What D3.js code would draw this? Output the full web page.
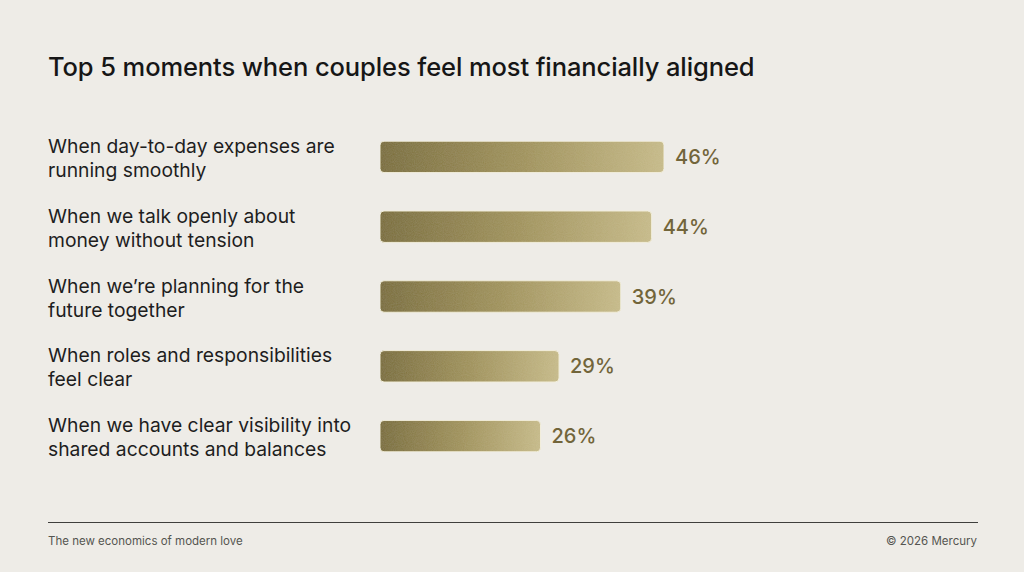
<!DOCTYPE html>
<html>
<head>
<meta charset="utf-8">
<script src="https://cdn.jsdelivr.net/npm/d3@7"></script>
<style>
  html, body { margin: 0; padding: 0; background: #eeece7; }
  svg { display: block; }
  text { font-family: Inter, "Noto Sans", sans-serif; }
</style>
</head>
<body>
<svg id="chart" width="1024" height="572"></svg>
<script>
const categories = [
  ["When day-to-day expenses are", "running smoothly"],
  ["When we talk openly about", "money without tension"],
  ["When we\u2019re planning for the", "future together"],
  ["When roles and responsibilities", "feel clear"],
  ["When we have clear visibility into", "shared accounts and balances"]
];
const values = [46, 44, 39, 29, 26];
const valueLabels = ["46%", "44%", "39%", "29%", "26%"];
const title = "Top 5 moments when couples feel most financially aligned";
const footerLeft = "The new economics of modern love";
const footerRight = "\u00a9 2026 Mercury";

const W = 1024, H = 572;
const svg = d3.select("#chart");
svg.append("rect").attr("width", W).attr("height", H).attr("fill", "#eeece7");

const defs = svg.append("defs");
const grad = defs.append("linearGradient").attr("id", "barGrad")
  .attr("x1", "0").attr("x2", "1").attr("y1", "0").attr("y2", "0");
grad.append("stop").attr("offset", "0%").attr("stop-color", "#776a36");
grad.append("stop").attr("offset", "50%").attr("stop-color", "#9e9058");
grad.append("stop").attr("offset", "100%").attr("stop-color", "#c5b988");

const filt = defs.append("filter").attr("id", "grain").attr("x", "0").attr("y", "0").attr("width", "1").attr("height", "1");
filt.append("feTurbulence").attr("type", "fractalNoise").attr("baseFrequency", "0.9").attr("numOctaves", "2").attr("seed", "3").attr("result", "noise");
filt.append("feColorMatrix").attr("in", "noise").attr("type", "matrix")
  .attr("values", "0 0 0 0 0.95  0 0 0 0 0.92  0 0 0 0 0.75  0 0 0 0.09 0").attr("result", "n2");
filt.append("feComposite").attr("in", "n2").attr("in2", "SourceGraphic").attr("operator", "in").attr("result", "n3");
filt.append("feMerge").call(m => { m.append("feMergeNode").attr("in", "SourceGraphic"); m.append("feMergeNode").attr("in", "n3"); });

// Title
svg.append("text").attr("x", 48).attr("y", 76)
  .attr("font-size", 25.5).attr("font-weight", 500).attr("fill", "#161616")
  .attr("letter-spacing", "-0.1")
  .text(title);

const x = d3.scaleLinear().domain([0, 46]).range([380, 664]);
const y = d3.scaleBand().domain(d3.range(values.length)).range([122, 471]).paddingInner(0.55).paddingOuter(0.275);

const rows = svg.append("g").selectAll("g").data(values).join("g");

rows.append("rect")
  .attr("x", x(0))
  .attr("y", (d, i) => y(i))
  .attr("width", d => x(d) - x(0))
  .attr("height", y.bandwidth())
  .attr("rx", 4)
  .attr("fill", "url(#barGrad)")
  .attr("stroke", "#f2eedc").attr("stroke-width", 1)
  .attr("filter", "url(#grain)");

rows.append("text")
  .attr("x", d => x(d) + 11)
  .attr("y", (d, i) => y(i) + y.bandwidth() / 2 + 7)
  .attr("font-size", 20).attr("font-weight", 500).attr("fill", "#72653a")
  .text((d, i) => valueLabels[i]);

const lab = rows.append("text")
  .attr("x", 48)
  .attr("font-size", 19.3).attr("fill", "#1e1e1e");
lab.each(function(d, i) {
  const t = d3.select(this);
  const cy = y(i) + y.bandwidth() / 2;
  categories[i].forEach((line, k) => {
    t.append("tspan").attr("x", 48).attr("y", cy - 4 + k * 24).text(line);
  });
});

// Footer
svg.append("line").attr("x1", 48).attr("x2", 978).attr("y1", 522.5).attr("y2", 522.5)
  .attr("stroke", "#3f3f3c").attr("stroke-width", 1);
svg.append("text").attr("x", 48).attr("y", 545).attr("font-size", 11.5).attr("fill", "#555550").text(footerLeft);
svg.append("text").attr("x", 977).attr("y", 545).attr("text-anchor", "end").attr("font-size", 11.5).attr("fill", "#555550").text(footerRight);
</script>
</body>
</html>
